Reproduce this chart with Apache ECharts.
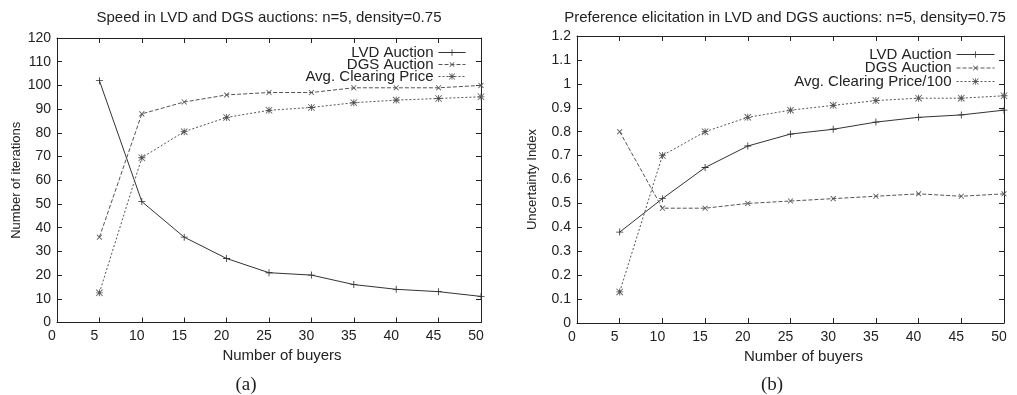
<!DOCTYPE html>
<html>
<head>
<meta charset="utf-8">
<script src="https://cdn.jsdelivr.net/npm/echarts@6/dist/echarts.min.js"></script>
<style>
  html, body { margin: 0; padding: 0; background: #fff; }
  #chart { width: 1017px; height: 395px; }
</style>
</head>
<body>
<div id="chart"></div>
<script>
// x values (number of buyers)
const buyers = [5, 10, 15, 20, 25, 30, 35, 40, 45, 50];

// (a) speed: number of iterations
const speedLvd = [102, 51, 36, 27, 21, 20, 16, 14, 13, 11];
const speedDgs = [36, 88, 93, 96, 97, 97, 99, 99, 99, 100];
const speedPrice = [12.5, 69.5, 80.5, 86.5, 89.5, 90.7, 92.7, 93.8, 94.5, 95.2];

// (b) preference elicitation: uncertainty index
const prefLvd = [0.38, 0.52, 0.65, 0.74, 0.79, 0.81, 0.84, 0.86, 0.87, 0.89];
const prefDgs = [0.80, 0.48, 0.48, 0.50, 0.51, 0.52, 0.53, 0.54, 0.53, 0.54];
const prefPrice = [0.13, 0.70, 0.80, 0.86, 0.89, 0.91, 0.93, 0.94, 0.94, 0.95];

const FONT = '"Liberation Sans", Arial, sans-serif';
const SERIF = '"Liberation Serif", "Times New Roman", serif';
const INK = '#222';

// marker shapes (filled outlines so they render as thin strokes)
const PLUS = 'path://M4.4,0H5.6V4.4H10V5.6H5.6V10H4.4V5.6H0V4.4H4.4Z';
const STAR = 'path://M4.4,0H5.6V4.4H10V5.6H5.6V10H4.4V5.6H0V4.4H4.4Z' +
  'M0.8,0L10,9.2L9.2,10L0,0.8Z M9.2,0L10,0.8L0.8,10L0,9.2Z' +
  'M3,3H7V7H3Z';

const pts = (arr) => buyers.map((b, i) => [b, arr[i]]);

function lineSeries(name, data, gi, kind) {
  const styles = {
    lvd: { type: 'solid', color: '#333', symbol: PLUS, rot: 0 },
    dgs: { type: [4, 2], color: '#555', symbol: PLUS, rot: 45 },
    price: { type: [2, 2], color: '#555', symbol: STAR, rot: 0 }
  };
  const s = styles[kind];
  return {
    name: name,
    type: 'line',
    xAxisIndex: gi * 2,
    yAxisIndex: gi * 2,
    data: data,
    symbol: s.symbol,
    symbolRotate: s.rot,
    symbolSize: 7,
    showSymbol: true,
    animation: false,
    lineStyle: { color: s.color, width: 1, type: s.type },
    itemStyle: { color: s.color }
  };
}

function xAxes(gi) {
  const base = {
    type: 'value', gridIndex: gi, min: 0, max: 50, interval: 5,
    splitLine: { show: false },
    axisLine: { onZero: false, lineStyle: { color: INK, width: 1 } },
    axisTick: { inside: true, length: 5, lineStyle: { color: INK } }
  };
  return [
    Object.assign({}, base, {
      position: 'bottom',
      axisLabel: { color: INK, fontFamily: FONT, fontSize: 14, margin: 7, padding: [0, 10, 0, 0] },
      name: 'Number of buyers', nameLocation: 'middle', nameGap: 22,
      nameTextStyle: { color: INK, fontFamily: FONT, fontSize: 15, padding: [0, 0, 0, 26] }
    }),
    Object.assign({}, base, { position: 'top', axisLabel: { show: false } })
  ];
}

function yAxes(gi, max, step, name, gap, fmt) {
  const base = {
    type: 'value', gridIndex: gi, min: 0, max: max, interval: step,
    splitLine: { show: false },
    axisLine: { onZero: false, lineStyle: { color: INK, width: 1 } },
    axisTick: { inside: true, length: 5, lineStyle: { color: INK } }
  };
  return [
    Object.assign({}, base, {
      position: 'left',
      axisLabel: { color: INK, fontFamily: FONT, fontSize: 14, margin: 6, formatter: fmt },
      name: name, nameLocation: 'middle', nameGap: gap,
      nameTextStyle: { color: INK, fontFamily: FONT, fontSize: 13 }
    }),
    Object.assign({}, base, { position: 'right', axisLabel: { show: false } })
  ];
}

const chart = echarts.init(document.getElementById('chart'), null, { renderer: 'canvas' });

chart.setOption({
  backgroundColor: '#fff',
  animation: false,
  grid: [
    { left: 57, top: 38, width: 424, height: 284.5 },
    { left: 577, top: 36, width: 427, height: 287 }
  ],
  xAxis: xAxes(0).concat(xAxes(1)),
  yAxis: yAxes(0, 120, 10, 'Number of iterations', 34, (v) => String(v))
    .concat(yAxes(1, 1.2, 0.1, 'Uncertainty Index', 38, (v) => String(+v.toFixed(1)))),
  legend: [
    {
      data: ['LVD Auction', 'DGS Auction', 'Avg. Clearing Price'],
      orient: 'vertical', align: 'right', right: 546, top: 40,
      itemWidth: 27, itemHeight: 8, itemGap: -3,
      lineStyle: { width: 1 },
      textStyle: { color: INK, fontFamily: FONT, fontSize: 15 }
    },
    {
      data: ['LVD Auction', 'DGS Auction', 'Avg. Clearing Price/100'],
      orient: 'vertical', align: 'right', right: 17, top: 42,
      itemWidth: 38, itemHeight: 8, itemGap: -1.5,
      lineStyle: { width: 1 },
      textStyle: { color: INK, fontFamily: FONT, fontSize: 15 }
    }
  ],
  graphic: [
    { type: 'text', x: 269, y: 18, style: { text: 'Speed in LVD and DGS auctions: n=5, density=0.75', fill: INK, font: '15px ' + FONT, textAlign: 'center', textVerticalAlign: 'middle' } },
    { type: 'text', x: 785, y: 18, style: { text: 'Preference elicitation in LVD and DGS auctions: n=5, density=0.75', fill: INK, font: '15px ' + FONT, textAlign: 'center', textVerticalAlign: 'middle' } },
    { type: 'text', x: 246, y: 385, style: { text: '(a)', fill: INK, font: '19px ' + SERIF, textAlign: 'center', textVerticalAlign: 'middle' } },
    { type: 'text', x: 772, y: 385, style: { text: '(b)', fill: INK, font: '19px ' + SERIF, textAlign: 'center', textVerticalAlign: 'middle' } }
  ],
  series: [
    lineSeries('LVD Auction', pts(speedLvd), 0, 'lvd'),
    lineSeries('DGS Auction', pts(speedDgs), 0, 'dgs'),
    lineSeries('Avg. Clearing Price', pts(speedPrice), 0, 'price'),
    lineSeries('LVD Auction', pts(prefLvd), 1, 'lvd'),
    lineSeries('DGS Auction', pts(prefDgs), 1, 'dgs'),
    lineSeries('Avg. Clearing Price/100', pts(prefPrice), 1, 'price')
  ]
});
</script>
</body>
</html>
